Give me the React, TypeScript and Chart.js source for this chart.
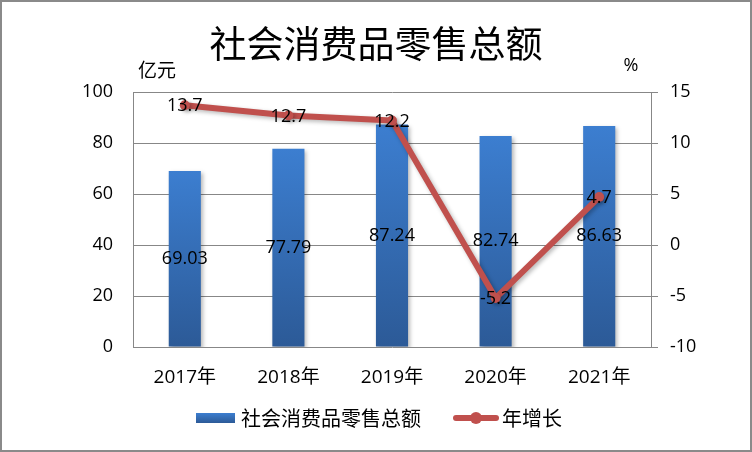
import React, { useEffect, useRef } from "react";
import { Chart, registerables } from "chart.js";

Chart.register(...registerables);

// ---- data ----
const categories = ["2017年", "2018年", "2019年", "2020年", "2021年"];
const salesValues = [69.03, 77.79, 87.24, 82.74, 86.63];
const growthValues = [13.7, 12.7, 12.2, -5.2, 4.7];
const salesLabel = "社会消费品零售总额";
const growthLabel = "年增长";
const titleText = "社会消费品零售总额";
const leftUnit = "亿元";
const rightUnit = "%";
const leftAxis = [0, 100, 20];
const rightAxis = [-10, 15, 5];

const NUM_FONT = '"Open Sans", "Noto Sans CJK SC", sans-serif';
const CJK_FONT = '"Noto Sans CJK SC", "Open Sans", sans-serif';
const GRID = "#878787";
const RED = "#C0504D";
const BLUE_TOP = "#3C7ED0";
const BLUE_BOTTOM = "#2C5A97";

const W = 748;
const H = 448;
const PLOT_LEFT = 131;
const PLOT_RIGHT = 649;
const PLOT_TOP = 90;
const PLOT_BOTTOM = 345;

const decorPlugin = {
  id: "decor",
  beforeDatasetDraw(chart: any) {
    const ctx = chart.ctx;
    ctx.save();
    ctx.shadowColor = "rgba(0,0,0,0.28)";
    ctx.shadowBlur = 4;
    ctx.shadowOffsetX = 2;
    ctx.shadowOffsetY = 2;
  },
  afterDatasetDraw(chart: any) {
    chart.ctx.restore();
  },
  afterDatasetsDraw(chart: any) {
    const ctx = chart.ctx;
    ctx.save();
    ctx.fillStyle = "#000";
    ctx.textAlign = "center";
    ctx.textBaseline = "middle";
    ctx.font = `18px ${NUM_FONT}`;
    const barMeta = chart.getDatasetMeta(0);
    barMeta.data.forEach((el: any, i: number) => {
      const { x, y, base } = el.getProps(["x", "y", "base"], true);
      ctx.fillText(String(salesValues[i].toFixed(2)), x, (y + base) / 2);
    });
    const lineMeta = chart.getDatasetMeta(1);
    lineMeta.data.forEach((el: any, i: number) => {
      const { x, y } = el.getProps(["x", "y"], true);
      ctx.fillText(String(growthValues[i]), x, y + 1);
    });
    ctx.restore();
  },
  afterDraw(chart: any) {
    const ctx = chart.ctx;
    ctx.save();
    ctx.fillStyle = "#000";
    // title
    ctx.textAlign = "center";
    ctx.textBaseline = "middle";
    ctx.font = `37px ${CJK_FONT}`;
    ctx.fillText(titleText, 374, 42);
    // units
    ctx.font = `19px ${CJK_FONT}`;
    ctx.textAlign = "left";
    ctx.fillText(leftUnit, 136, 68);
    ctx.font = `18px ${NUM_FONT}`;
    ctx.textAlign = "center";
    ctx.fillText(rightUnit, 629, 64);

    // legend
    const ly = 416;
    const g = ctx.createLinearGradient(0, ly - 5, 0, ly + 5);
    g.addColorStop(0, BLUE_TOP);
    g.addColorStop(1, BLUE_BOTTOM);
    ctx.fillStyle = g;
    ctx.fillRect(194, ly - 5, 39, 10);
    ctx.fillStyle = "#000";
    ctx.textAlign = "left";
    ctx.font = `20px ${CJK_FONT}`;
    ctx.fillText(chart.data.datasets[0].label, 239, ly);

    ctx.strokeStyle = RED;
    ctx.lineWidth = 6;
    ctx.lineCap = "round";
    ctx.beginPath();
    ctx.moveTo(454, ly);
    ctx.lineTo(494, ly);
    ctx.stroke();
    ctx.fillStyle = RED;
    ctx.beginPath();
    ctx.arc(474, ly, 6, 0, Math.PI * 2);
    ctx.fill();
    ctx.fillStyle = "#000";
    ctx.fillText(chart.data.datasets[1].label, 500, ly);
    ctx.restore();
  },
};

export default function App() {
  const canvasRef = useRef<HTMLCanvasElement | null>(null);

  useEffect(() => {
    const canvas = canvasRef.current;
    if (!canvas) return;
    const chart = new Chart(canvas, {
      type: "bar",
      data: {
        labels: categories,
        datasets: [
          {
            type: "bar",
            label: salesLabel,
            data: salesValues,
            yAxisID: "y",
            order: 2,
            categoryPercentage: 1,
            barPercentage: 0.31,
            backgroundColor: (c: any) => {
              const chart = c.chart;
              if (!chart.chartArea || c.type !== "data") return "#3671B8";
              const ys = chart.scales.y;
              const top = ys.getPixelForValue(c.raw);
              const bottom = ys.getPixelForValue(0);
              const gr = chart.ctx.createLinearGradient(0, top, 0, bottom);
              gr.addColorStop(0, BLUE_TOP);
              gr.addColorStop(1, BLUE_BOTTOM);
              return gr;
            },
            borderWidth: 0,
          } as any,
          {
            type: "line",
            label: growthLabel,
            data: growthValues,
            yAxisID: "y1",
            order: 1,
            borderColor: RED,
            backgroundColor: RED,
            borderWidth: 6,
            pointRadius: 5,
            pointHoverRadius: 5,
            pointBackgroundColor: RED,
            pointBorderColor: RED,
            pointBorderWidth: 0,
            tension: 0,
            borderJoinStyle: "round",
            borderCapStyle: "round",
          } as any,
        ],
      },
      options: {
        animation: false,
        responsive: false,
        devicePixelRatio: 1,
        layout: { padding: { left: 0, right: 0, top: PLOT_TOP, bottom: 58 } },
        plugins: {
          legend: { display: false },
          title: { display: false },
          tooltip: { enabled: false },
        },
        scales: {
          x: {
            grid: { display: false },
            border: { display: false },
            ticks: {
              color: "#000",
              font: { size: 19, family: NUM_FONT },
              padding: 11,
              maxRotation: 0,
            },
            afterFit: (s: any) => {
              s.height = H - 58 - PLOT_BOTTOM;
            },
          },
          y: {
            position: "left",
            min: leftAxis[0],
            max: leftAxis[1],
            ticks: {
              stepSize: leftAxis[2],
              color: "#000",
              font: { size: 18, family: NUM_FONT },
              padding: 20,
            },
            grid: { color: GRID, lineWidth: 1, drawTicks: false },
            border: { display: true, color: GRID, width: 1 },
            afterFit: (s: any) => {
              s.width = PLOT_LEFT;
            },
          },
          y1: {
            position: "right",
            min: rightAxis[0],
            max: rightAxis[1],
            ticks: {
              stepSize: rightAxis[2],
              color: "#000",
              font: { size: 18, family: NUM_FONT },
              padding: 12,
            },
            grid: {
              drawOnChartArea: false,
              drawTicks: true,
              tickLength: 7,
              color: GRID,
              lineWidth: 1,
            },
            border: { display: true, color: GRID, width: 1 },
            afterFit: (s: any) => {
              s.width = W - PLOT_RIGHT;
            },
          },
        },
      } as any,
      plugins: [decorPlugin],
    });
    return () => chart.destroy();
  }, []);

  return (
    <div
      style={{
        position: "absolute",
        left: 0,
        top: 0,
        width: 752,
        height: 452,
        boxSizing: "border-box",
        border: "2px solid #8a8a8a",
        background: "#fff",
      }}
    >
      <canvas
        ref={canvasRef}
        width={W}
        height={H}
        style={{ display: "block", width: W, height: H }}
      />
    </div>
  );
}
